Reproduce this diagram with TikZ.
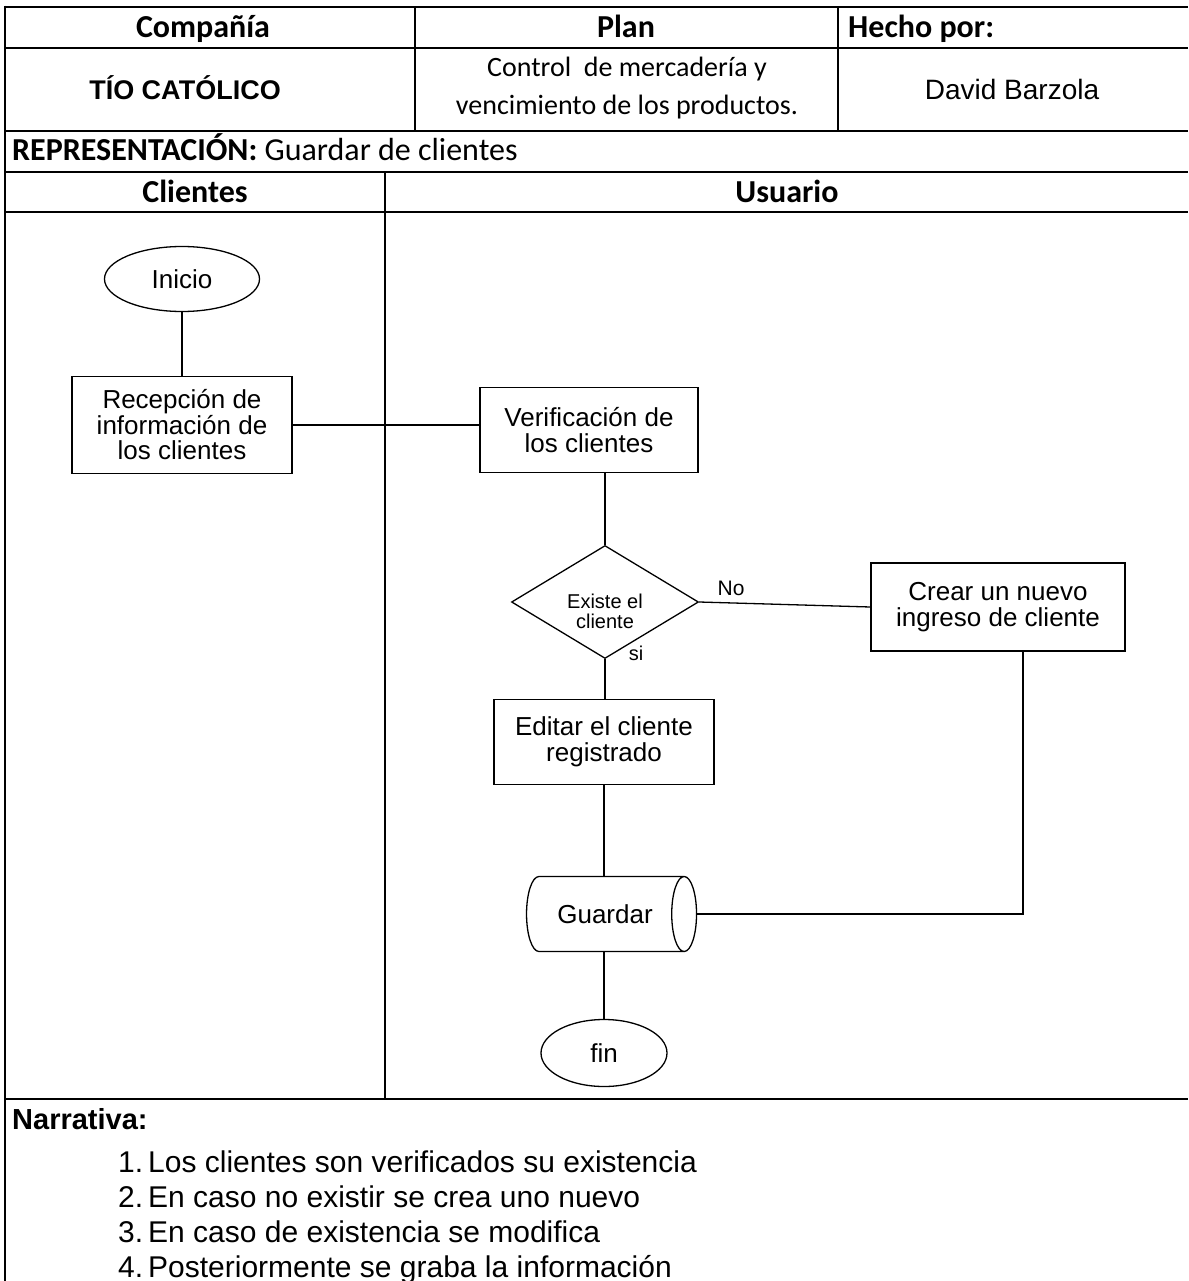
\documentclass[tikz,border=0pt]{standalone}
\usepackage{fontspec}
\setmainfont{Liberation Sans}
\newfontfamily\calibri{Carlito}
\usepackage{tikz}
\usetikzlibrary{shapes.geometric}

\tikzset{
  rule/.style={line width=2.6pt},
  link/.style={line width=1.3pt},
  proc/.style={draw, line width=1.3pt, align=center, inner sep=0pt, font=\fontsize{26}{25.5}\selectfont},
  term/.style={proc, ellipse},
  head/.style={font=\calibri\bfseries\fontsize{32}{34}\selectfont, inner sep=0pt, anchor=base},
  narr/.style={font=\fontsize{30}{30}\selectfont, anchor=base west, inner sep=0pt},
}

\begin{document}
\begin{tikzpicture}[x=1pt, y=-1pt]
\useasboundingbox (0,0) rectangle (1188,1281);
% table frame
\draw[rule] (5,7) -- (1188,7);
\draw[rule] (5,48) -- (1188,48);
\draw[rule] (5,131) -- (1188,131);
\draw[rule] (5,172) -- (1188,172);
\draw[rule] (5,212) -- (1188,212);
\draw[rule] (5,1099) -- (1188,1099);
\draw[rule] (5,5.7) -- (5,1281);
\draw[rule] (415,7) -- (415,131);
\draw[rule] (838,7) -- (838,131);
\draw[rule] (385,172) -- (385,1099);
% table texts
\node[head] (compania) at (203,38) {Compañía};
\node[head] (plan) at (626,38) {Plan};
\node[head, anchor=base west] (hecho) at (848,38) {Hecho por:};
\node[font=\bfseries\fontsize{27}{28}\selectfont, anchor=base] (tio) at (185,100) {TÍO CATÓLICO};
\node[font=\calibri\fontsize{28}{38}\selectfont, align=center] (plantxt) at (627,88) {Control\ \ de mercadería y\\vencimiento de los productos.};
\node[font=\fontsize{28}{30}\selectfont, anchor=base] (autor) at (1012,100) {David Barzola};
\node[head, anchor=base west] (repr) at (12,161) {REPRESENTACIÓN:\mdseries{} Guardar de clientes};
\node[head] (clientes) at (195,203) {Clientes};
\node[head] (usuario) at (787,203) {Usuario};
% flow
\node[term, minimum width=155, minimum height=65] (inicio) at (182,279) {Inicio};
\node[proc, minimum width=220, minimum height=97] (recep) at (182,425) {Recepción de\\información de\\los clientes};
\node[proc, minimum width=218, minimum height=85] (verif) at (589,430) {Verificación de\\los clientes};
\node[proc, diamond, minimum width=187, minimum height=113] (existe) at (605,602) {};
\node[font=\fontsize{20}{20}\selectfont, align=center] (existetxt) at (605,611) {Existe el\\cliente};
\node[proc, minimum width=254, minimum height=88] (crear) at (998,607) {Crear un nuevo\\ingreso de cliente};
\node[proc, minimum width=220, minimum height=85] (editar) at (604,742) {Editar el cliente\\registrado};
\node[proc, cylinder, shape aspect=1.3, minimum height=170, minimum width=75] (guardar) at (605,914) {Guardar};
\node[term, minimum width=126, minimum height=67] (fin) at (604,1053) {fin};
\node[font=\fontsize{21}{21}\selectfont] (no) at (731,588) {No};
\node[font=\fontsize{20}{20}\selectfont] (si) at (636,653) {si};
% connectors
\draw[link] (inicio.south) -- (recep.north);
\draw[link] (recep.east) -- (recep.east -| verif.west);
\draw[link] (verif.south -| existe.north) -- (existe.north);
\draw[link] (existe.east) -- (crear.west);
\draw[link] (existe.south) -- (existe.south |- editar.north);
\draw[link] (editar.south) -- (editar.south |- guardar.north);
\draw[link] ([xshift=25pt]crear.south) |- (guardar.east);
\draw[link] (fin.north |- guardar.south) -- (fin.north);
% narrative
\node[font=\bfseries\fontsize{29}{30}\selectfont, anchor=base west, inner sep=0pt] (narrativa) at (12,1129) {Narrativa:};
\foreach \n/\y/\t in {1/1172/Los clientes son verificados su existencia,
                      2/1207/En caso no existir se crea uno nuevo,
                      3/1242/En caso de existencia se modifica,
                      4/1277/Posteriormente se graba la información}{
  \node[narr] (num\n) at (118,\y) {\n.};
  \node[narr] (item\n) at (148,\y) {\t};
}
\end{tikzpicture}
\end{document}
